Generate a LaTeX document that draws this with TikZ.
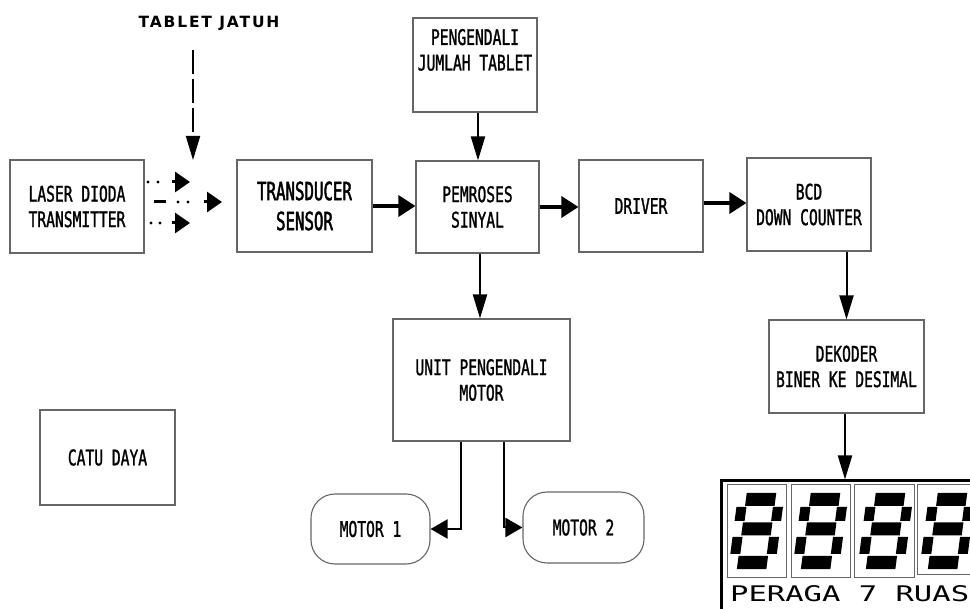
\documentclass[tikz,border=0pt]{standalone}
\usepackage{fontspec}
\usetikzlibrary{arrows.meta}
\newfontfamily\boxfont[FakeStretch=0.68,FakeBold=1.2]{DejaVu Sans Mono}
\newfontfamily\bigboxfont[FakeStretch=0.63,FakeBold=1.8]{DejaVu Sans Mono}
\newfontfamily\tjfont[LetterSpace=12]{DejaVu Sans}
\newfontfamily\dispfont[FakeStretch=1.42]{DejaVu Sans Mono}
\newcommand\boxtext{\boxfont\fontsize{21.5pt}{25.5pt}\selectfont}
\newcommand\bigtext{\bigboxfont\fontsize{25pt}{30pt}\selectfont}
\newcommand\tjtext{\tjfont\bfseries\fontsize{15.5pt}{18pt}\selectfont}
\newcommand\disptext{\dispfont\fontsize{21.5pt}{24pt}\selectfont}
\newcommand\dseg[5]{\fill ({#1+(#2)+0.13*(568-#4)},#4) -- ({#1+(#3)+0.13*(568-#4)},#4) -- ({#1+(#3)+0.13*(568-#5)},#5) -- ({#1+(#2)+0.13*(568-#5)},#5) -- cycle;}
\newcommand\ddigit[1]{%
  \dseg{#1}{4}{33.5}{493}{506}%
  \dseg{#1}{-4.5}{5.5}{507}{521}%
  \dseg{#1}{32}{42}{507}{521}%
  \dseg{#1}{4}{33.5}{522.5}{535.5}%
  \dseg{#1}{-4.5}{5.5}{537}{554}%
  \dseg{#1}{32}{42}{537}{554}%
  \dseg{#1}{4}{33.5}{556}{569}}
\begin{document}
\begin{tikzpicture}[x=1pt,y=-1pt,
  box/.style={draw=black!60, line width=1.1pt, inner sep=0pt, align=center, font=\boxtext},
  motorbox/.style={box, rounded corners=24pt},
  harrow/.style={line width=3.5pt, -{Triangle[length=17pt,width=21pt]}},
  varrow/.style={line width=2pt, -{Triangle[length=24pt,width=14pt]}},
  marrow/.style={line width=2pt, -{Triangle[length=17pt,width=19pt]}},
  beam/.style={line width=3pt, -{Triangle[length=15pt,width=20pt]}},
  cell/.style={draw=black!60, line width=1pt}
]
\fill[white] (0,0) rectangle (970,609);
\useasboundingbox (0,0) rectangle (970,609);

% boxes
\node[box, minimum width=134pt, minimum height=93pt] (laser) at (77,206.5) {LASER DIODA\\TRANSMITTER};
\node[box, font=\bigtext, minimum width=135pt, minimum height=92pt] (trans) at (304.5,206) {TRANSDUCER\\SENSOR};
\node[box, minimum width=124pt, minimum height=94pt] (peng) at (475,65) {PENGENDALI\\JUMLAH TABLET\\[5pt]};
\node[box, minimum width=123pt, minimum height=92pt] (pem) at (477.5,207) {PEMROSES\\SINYAL};
\node[box, minimum width=124pt, minimum height=92pt] (driver) at (641,206) {DRIVER};
\node[box, minimum width=124pt, minimum height=93pt] (bcd) at (809,204.5) {BCD\\DOWN COUNTER};
\node[box, minimum width=177pt, minimum height=122pt] (unit) at (481.5,380) {UNIT PENGENDALI\\MOTOR};
\node[box, minimum width=155pt, minimum height=93pt] (dek) at (846.5,366.5) {DEKODER\\BINER KE DESIMAL};
\node[box, minimum width=135pt, minimum height=95pt] (catu) at (107.5,457.5) {CATU DAYA};
\node[motorbox, minimum width=119pt, minimum height=70pt] (motor1) at (370.5,529) {MOTOR 1};
\node[motorbox, minimum width=121pt, minimum height=71pt] (motor2) at (583.5,527.5) {MOTOR 2};

% tablet jatuh
\node[font=\tjtext] (tj) at (209,23) {TABLET JATUH};
\coordinate (tjs) at (193,50);
\coordinate (tjt) at (193,160);
\draw[varrow, dash pattern=on 24pt off 5pt] (tjs) -- (tjt);

% laser beams
\coordinate (b1s) at (172,182); \coordinate (b1e) at (190,182);
\coordinate (b2s) at (204,202); \coordinate (b2e) at (222,202);
\coordinate (b3s) at (172,223); \coordinate (b3e) at (190,223);
\draw[beam] (b1s) -- (b1e);
\draw[beam] (b2s) -- (b2e);
\draw[beam] (b3s) -- (b3e);
\fill (148,182) circle (1.6pt) (158,182) circle (1.6pt);
\fill (178,202) circle (1.6pt) (188,202) circle (1.6pt);
\fill (151,223) circle (1.6pt) (160,223) circle (1.6pt);
\draw[line width=3pt] (154,202) -- (166,202);

% connectors
\draw[harrow] (trans.east) -- (trans.east -| pem.west);
\draw[harrow] (pem.east) -- (pem.east -| driver.west);
\draw[harrow] ([yshift=3pt]driver.east) -- ([yshift=3pt]driver.east -| bcd.west);
\draw[varrow] ([xshift=3pt]peng.south) -- ([xshift=3pt]peng.south |- pem.north);
\draw[varrow] ([xshift=2.5pt]pem.south) -- ([xshift=2.5pt]pem.south |- unit.north);
\draw[varrow] (dek.north |- bcd.south) -- (dek.north);
\draw[marrow] ([xshift=-20.5pt]unit.south) |- (motor1.east);
\draw[marrow] ([xshift=22.5pt]unit.south) |- (motor2.west);

% display
\begin{scope}
\clip (0,0) rectangle (970,609);
\node[draw, line width=3pt, minimum width=300pt, minimum height=150pt, anchor=north west, inner sep=0pt] (disp) at (719.5,479.5) {};
\draw[cell] (727,485) rectangle (786,577);
\draw[cell] (791,485) rectangle (850,577);
\draw[cell] (854,485) rectangle (914,577);
\draw[cell] (917,485) rectangle (1000,574);
\ddigit{733}
\ddigit{797}
\ddigit{862}
\ddigit{924}
\end{scope}
\node[font=\disptext, anchor=west, inner sep=0pt] (peraga) at (730,594) {PERAGA 7 RUAS};
\draw[varrow] ([xshift=-1.5pt]dek.south) -- ([xshift=-1.5pt]dek.south |- disp.north);
\end{tikzpicture}
\end{document}
